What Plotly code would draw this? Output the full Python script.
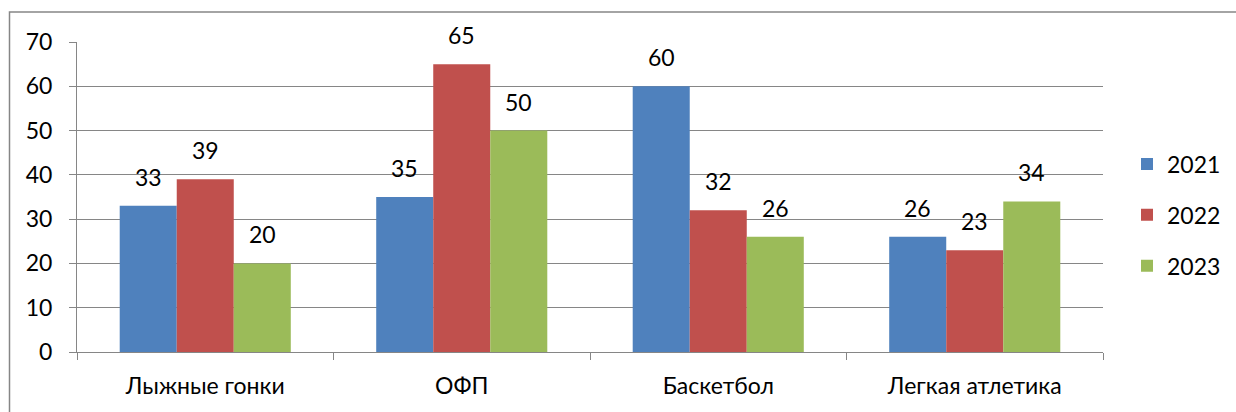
import plotly.graph_objects as go

categories = ["Лыжные гонки", "ОФП", "Баскетбол", "Легкая атлетика"]
years = ["2021", "2022", "2023"]
v2021 = [33, 35, 60, 26]
v2022 = [39, 65, 32, 23]
v2023 = [20, 50, 26, 34]
y_ticks = [0, 10, 20, 30, 40, 50, 60, 70]

series = [v2021, v2022, v2023]
colors = ["#4F81BD", "#C0504D", "#9BBB59"]
FONT = "Lato"
FS = 23

W, H = 1236, 412
ML, MR, MT, MB = 77, 133, 42, 60
BARGAP = 0.333
plot_w = W - ML - MR
bar_w = plot_w / len(categories) * (1 - BARGAP) / len(series)

fig = go.Figure()
for i, (name, vals) in enumerate(zip(years, series)):
    fig.add_trace(go.Bar(
        x=categories, y=vals, name=name, marker_color=colors[i],
        marker_line_width=0, legendgroup=name,
    ))
    for c, v in zip(categories, vals):
        fig.add_annotation(
            x=c, y=v, text=str(v), showarrow=False,
            xshift=(i - 1) * bar_w, yshift=29, yanchor="middle",
            font=dict(family=FONT, size=FS, color="#000000"),
        )

fig.update_layout(
    width=W, height=H,
    margin=dict(l=ML, r=MR, t=MT, b=MB, autoexpand=False),
    paper_bgcolor="white", plot_bgcolor="white",
    barmode="group", bargap=BARGAP, bargroupgap=0,
    font=dict(family=FONT, size=FS, color="#000000"),
    legend=dict(x=1127 / W, y=(H - 215) / H, xref="container", yref="container",
                xanchor="left", yanchor="middle",
                font=dict(family=FONT, size=FS), tracegroupgap=18,
                itemwidth=30, bgcolor="rgba(0,0,0,0)"),
    showlegend=True,
)
fig.update_xaxes(
    showline=True, linecolor="#868686", linewidth=1,
    ticks="outside", tickson="boundaries", ticklen=7, tickcolor="#868686",
    showgrid=False, tickfont=dict(family=FONT, size=FS),
    ticklabelstandoff=13,
)
fig.update_yaxes(
    range=[0, 70], tickvals=y_ticks, showline=True, linecolor="#868686",
    linewidth=1, ticks="outside", ticklen=7, tickcolor="#868686",
    showgrid=True, gridcolor="#868686", gridwidth=1, zeroline=False,
    ticklabelstandoff=12, tickfont=dict(family=FONT, size=FS),
)
# outer border
fig.add_shape(type="rect", xref="paper", yref="paper",
              x0=(9.5 - ML) / plot_w, x1=1.3, y0=-0.3, y1=(352 - 12) / (H - MT - MB),
              line=dict(color="#868686", width=1.5), fillcolor="rgba(0,0,0,0)",
              layer="below")

fig.write_html("out.html", config={"displayModeBar": False},
               post_script="document.body.style.margin='0';document.body.style.overflow='hidden';")
